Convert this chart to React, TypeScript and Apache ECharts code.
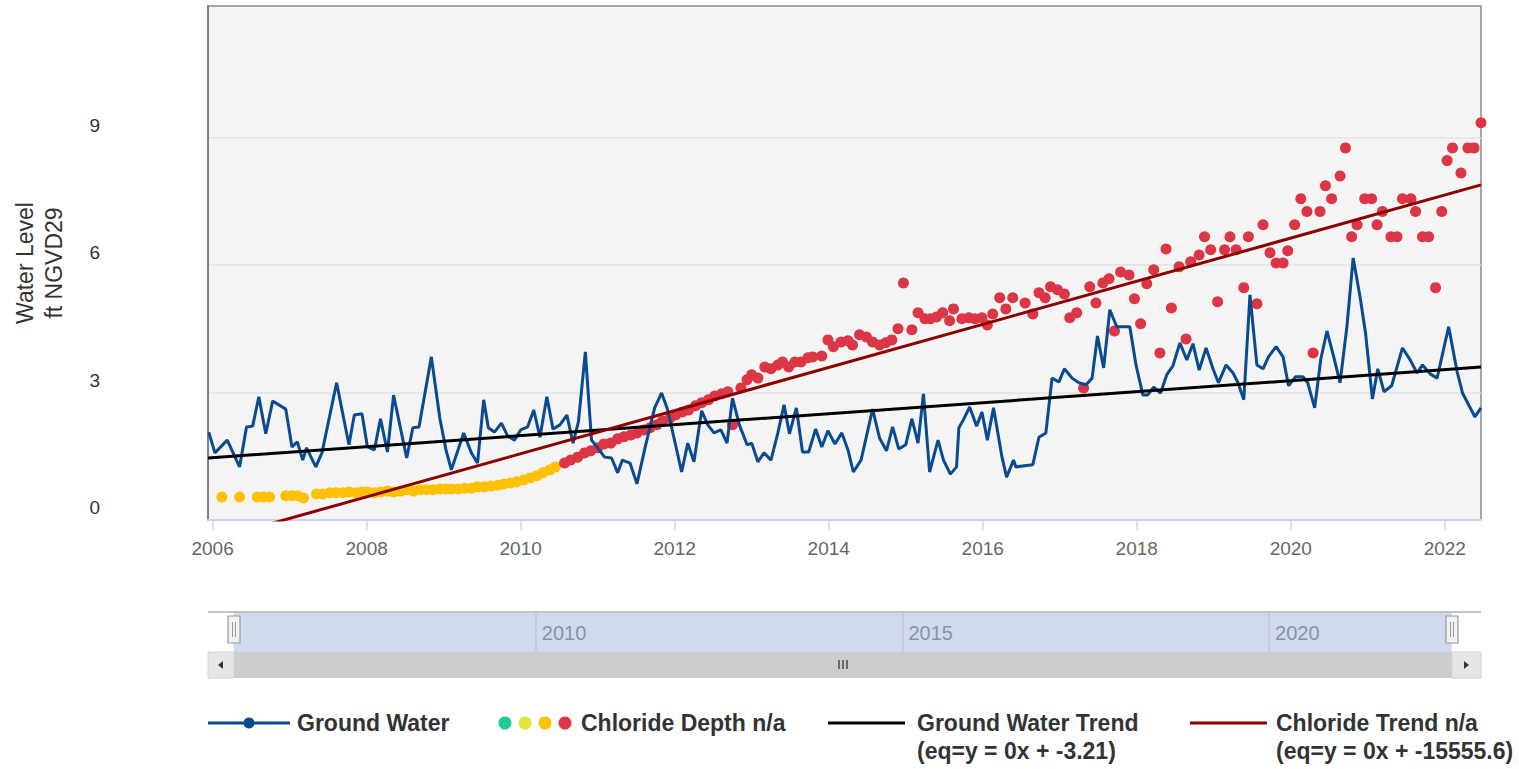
import React, { useEffect, useRef } from "react";
import * as echarts from "echarts";

const FONT = '"Liberation Sans", Arial, Helvetica, sans-serif';

// x axis range (decimal years) and tick labels
const xRange = [2005.94, 2022.47];
const xTickYears = [2006, 2008, 2010, 2012, 2014, 2016, 2018, 2020, 2022];
const yRange = [0, 12.1];
const yTickValues = [0, 3, 6, 9];

// navigator (overview) axis range, labels and selected window
const navRange = [2005.53, 2022.89];
const navTickYears = [2010, 2015, 2020];
const navSelection = [2005.88, 2022.49];

// Ground water level, ft NGVD29 [decimal year, level]
const groundWater: [number, number][] = [
  [2005.95, 2.07], [2006.03, 1.58], [2006.19, 1.88], [2006.35, 1.25], [2006.44, 2.19], [2006.52, 2.21],
  [2006.6, 2.9], [2006.69, 2.03], [2006.78, 2.8], [2006.95, 2.61], [2007.03, 1.72], [2007.1, 1.84],
  [2007.17, 1.41], [2007.22, 1.7], [2007.34, 1.25], [2007.42, 1.58], [2007.61, 3.23], [2007.77, 1.77],
  [2007.84, 2.47], [2007.94, 2.5], [2008.01, 1.72], [2008.1, 1.65], [2008.18, 2.38], [2008.27, 1.6],
  [2008.35, 2.94], [2008.52, 1.46], [2008.6, 2.17], [2008.68, 2.19], [2008.84, 3.84], [2008.95, 2.4],
  [2009.03, 1.65], [2009.1, 1.18], [2009.26, 2.05], [2009.36, 1.58], [2009.44, 1.34], [2009.52, 2.83],
  [2009.58, 2.17], [2009.66, 2.07], [2009.75, 2.28], [2009.83, 1.98], [2009.92, 1.88], [2010.0, 2.12],
  [2010.09, 2.19], [2010.17, 2.59], [2010.25, 1.95], [2010.34, 2.9], [2010.42, 2.14], [2010.51, 2.24],
  [2010.6, 2.47], [2010.68, 1.81], [2010.75, 2.31], [2010.84, 3.96], [2010.92, 1.88], [2011.0, 1.7],
  [2011.09, 1.48], [2011.18, 1.46], [2011.26, 1.11], [2011.32, 1.41], [2011.42, 1.34], [2011.51, 0.85],
  [2011.62, 1.74], [2011.74, 2.64], [2011.83, 2.99], [2011.91, 2.59], [2012.09, 1.13], [2012.17, 1.81],
  [2012.25, 1.37], [2012.35, 2.57], [2012.43, 2.24], [2012.51, 2.05], [2012.6, 2.12], [2012.68, 1.81],
  [2012.75, 2.87], [2012.84, 2.24], [2012.94, 1.77], [2013.0, 1.81], [2013.08, 1.37], [2013.16, 1.58],
  [2013.25, 1.41], [2013.34, 2.05], [2013.42, 2.71], [2013.49, 2.03], [2013.58, 2.64], [2013.66, 1.6],
  [2013.74, 1.6], [2013.83, 2.14], [2013.91, 1.72], [2013.99, 2.1], [2014.08, 1.79], [2014.17, 2.05],
  [2014.25, 1.65], [2014.32, 1.13], [2014.42, 1.41], [2014.57, 2.61], [2014.66, 1.93], [2014.75, 1.63],
  [2014.83, 2.19], [2014.91, 1.67], [2015.0, 1.77], [2015.08, 2.38], [2015.16, 1.81], [2015.23, 2.97],
  [2015.31, 1.13], [2015.42, 1.88], [2015.49, 1.41], [2015.58, 1.08], [2015.66, 1.25], [2015.69, 2.17],
  [2015.75, 2.36], [2015.83, 2.66], [2015.92, 2.21], [2015.99, 2.54], [2016.06, 1.88], [2016.14, 2.64],
  [2016.25, 1.48], [2016.31, 1.01], [2016.4, 1.41], [2016.43, 1.25], [2016.65, 1.3], [2016.73, 1.95],
  [2016.82, 2.05], [2016.9, 3.34], [2016.99, 3.25], [2017.06, 3.56], [2017.16, 3.34], [2017.25, 3.23],
  [2017.34, 3.18], [2017.42, 3.34], [2017.49, 4.33], [2017.57, 3.58], [2017.65, 4.95], [2017.74, 4.55],
  [2017.91, 4.55], [2017.99, 3.65], [2018.08, 2.94], [2018.14, 2.94], [2018.22, 3.13], [2018.31, 2.99],
  [2018.39, 3.42], [2018.47, 3.63], [2018.56, 4.17], [2018.65, 3.77], [2018.73, 4.15], [2018.81, 3.53],
  [2018.9, 4.05], [2018.99, 3.56], [2019.06, 3.23], [2019.16, 3.65], [2019.25, 3.46], [2019.31, 3.25],
  [2019.39, 2.83], [2019.47, 5.3], [2019.56, 3.65], [2019.64, 3.56], [2019.71, 3.84], [2019.81, 4.08],
  [2019.9, 3.84], [2019.97, 3.16], [2020.06, 3.37], [2020.16, 3.37], [2020.22, 3.23], [2020.31, 2.64],
  [2020.39, 3.79], [2020.47, 4.45], [2020.56, 3.82], [2020.64, 3.23], [2020.73, 4.57], [2020.81, 6.17],
  [2020.9, 5.25], [2020.97, 4.41], [2021.06, 2.85], [2021.13, 3.56], [2021.21, 3.02], [2021.31, 3.16],
  [2021.45, 4.05], [2021.55, 3.77], [2021.64, 3.46], [2021.71, 3.65], [2021.81, 3.44], [2021.9, 3.34],
  [2022.05, 4.55], [2022.16, 3.49], [2022.23, 2.99], [2022.39, 2.43], [2022.47, 2.64],
];

// Chloride depth samples, moderate class (orange)
const chlorideModerate: [number, number][] = [
  [2006.12, 0.54], [2006.35, 0.54], [2006.58, 0.54], [2006.66, 0.54], [2006.74, 0.54], [2006.95, 0.57],
  [2007.03, 0.57], [2007.1, 0.57], [2007.18, 0.52], [2007.35, 0.61], [2007.43, 0.61], [2007.52, 0.64],
  [2007.6, 0.64], [2007.69, 0.64], [2007.77, 0.66], [2007.86, 0.64], [2007.94, 0.66], [2008.01, 0.66],
  [2008.1, 0.64], [2008.18, 0.66], [2008.27, 0.68], [2008.35, 0.66], [2008.44, 0.68], [2008.52, 0.71],
  [2008.61, 0.68], [2008.69, 0.71], [2008.78, 0.71], [2008.86, 0.71], [2008.95, 0.73], [2009.03, 0.73],
  [2009.1, 0.73], [2009.19, 0.73], [2009.27, 0.75], [2009.36, 0.75], [2009.44, 0.78], [2009.53, 0.78],
  [2009.61, 0.8], [2009.7, 0.82], [2009.78, 0.85], [2009.87, 0.87], [2009.95, 0.9], [2010.04, 0.94],
  [2010.12, 0.99], [2010.21, 1.04], [2010.29, 1.11], [2010.38, 1.18], [2010.45, 1.25],
];

// Chloride depth samples, high class (red)
const chlorideHigh: [number, number][] = [
  [2010.57, 1.34], [2010.65, 1.41], [2010.74, 1.48], [2010.83, 1.58], [2010.91, 1.63], [2011.0, 1.7],
  [2011.08, 1.79], [2011.17, 1.81], [2011.26, 1.91], [2011.34, 1.96], [2011.43, 2.0], [2011.51, 2.05],
  [2011.6, 2.12], [2011.68, 2.17], [2011.77, 2.24], [2011.84, 2.33], [2011.94, 2.4], [2012.01, 2.47],
  [2012.1, 2.54], [2012.18, 2.59], [2012.27, 2.69], [2012.35, 2.76], [2012.44, 2.83], [2012.52, 2.92],
  [2012.61, 2.97], [2012.69, 3.02], [2012.75, 2.24], [2012.86, 3.11], [2012.94, 3.3], [2013.0, 3.42],
  [2013.08, 3.34], [2013.17, 3.6], [2013.25, 3.56], [2013.34, 3.65], [2013.4, 3.72], [2013.48, 3.6],
  [2013.56, 3.72], [2013.64, 3.72], [2013.73, 3.82], [2013.79, 3.84], [2013.91, 3.86], [2013.99, 4.24],
  [2014.06, 4.08], [2014.16, 4.19], [2014.25, 4.22], [2014.31, 4.12], [2014.4, 4.36], [2014.49, 4.31],
  [2014.57, 4.19], [2014.66, 4.12], [2014.74, 4.17], [2014.82, 4.24], [2014.9, 4.5], [2014.97, 5.58],
  [2015.08, 4.48], [2015.16, 4.88], [2015.25, 4.74], [2015.32, 4.74], [2015.4, 4.78], [2015.48, 4.88],
  [2015.57, 4.69], [2015.62, 4.97], [2015.73, 4.74], [2015.82, 4.76], [2015.9, 4.74], [2015.99, 4.76],
  [2016.06, 4.59], [2016.13, 4.85], [2016.22, 5.23], [2016.3, 4.97], [2016.39, 5.23], [2016.55, 5.11],
  [2016.65, 4.85], [2016.73, 5.35], [2016.81, 5.23], [2016.88, 5.49], [2016.97, 5.42], [2017.06, 5.32],
  [2017.13, 4.76], [2017.22, 4.88], [2017.31, 3.11], [2017.39, 5.49], [2017.47, 5.11], [2017.56, 5.58],
  [2017.64, 5.68], [2017.71, 4.45], [2017.79, 5.84], [2017.9, 5.77], [2017.97, 5.21], [2018.05, 4.62],
  [2018.13, 5.56], [2018.22, 5.89], [2018.3, 3.93], [2018.38, 6.38], [2018.45, 4.99], [2018.55, 5.96],
  [2018.64, 4.26], [2018.7, 6.08], [2018.81, 6.24], [2018.88, 6.67], [2018.96, 6.36], [2019.05, 5.14],
  [2019.14, 6.36], [2019.21, 6.67], [2019.29, 6.36], [2019.39, 5.47], [2019.45, 6.67], [2019.56, 5.09],
  [2019.64, 6.95], [2019.73, 6.29], [2019.81, 6.05], [2019.9, 6.05], [2019.96, 6.34], [2020.05, 6.95],
  [2020.13, 7.56], [2020.21, 7.26], [2020.29, 3.93], [2020.38, 7.26], [2020.45, 7.87], [2020.53, 7.56],
  [2020.64, 8.1], [2020.71, 8.76], [2020.79, 6.67], [2020.86, 6.95], [2020.96, 7.56], [2021.05, 7.56],
  [2021.12, 6.95], [2021.19, 7.26], [2021.3, 6.67], [2021.38, 6.67], [2021.45, 7.56], [2021.56, 7.56],
  [2021.62, 7.26], [2021.71, 6.67], [2021.79, 6.67], [2021.88, 5.47], [2021.96, 7.26], [2022.03, 8.46],
  [2022.1, 8.76], [2022.21, 8.17], [2022.3, 8.76], [2022.38, 8.76], [2022.47, 9.35],
];

// Linear trends (endpoints at the plot edges)
const groundWaterTrend: [number, number][] = [[2005.94, 1.46], [2022.47, 3.6]];
const chlorideTrend: [number, number][] = [[2005.94, -0.5], [2022.47, 7.89]];

// Legend texts
const legendLabels = [
  "Ground Water",
  "Chloride Depth n/a",
  "Ground Water Trend\n(eq=y = 0x + -3.21)",
  "Chloride Trend n/a\n(eq=y = 0x + -15555.6)",
];

const BLUE = "#0a4a8e";
const RED = "#dc3545";
const ORANGE = "#ffc107";
const DARKRED = "#8b0000";

export default function App() {
  const ref = useRef<HTMLDivElement>(null);

  useEffect(() => {
    if (!ref.current) return;
    const chart = echarts.init(ref.current, null, { renderer: "svg" });

    const legendTextStyle = (text: string) => ({
      text,
      fontSize: 23,
      fontWeight: "bold",
      fontFamily: FONT,
      fill: "#333333",
      lineHeight: 28,
      verticalAlign: "top",
    });

    const graphics: any[] = [
      // navigator top outline
      { type: "line", z: 50, shape: { x1: 208, y1: 612, x2: 1481, y2: 612 }, style: { stroke: "#c2c2c2", lineWidth: 2 } },
      // scrollbar track + thumb
      { type: "rect", z: 50, shape: { x: 208, y: 652, width: 1273, height: 26 }, style: { fill: "#f2f2f2" } },
      { type: "rect", z: 51, shape: { x: 234, y: 652, width: 1218, height: 26 }, style: { fill: "#cccccc" } },
      { type: "rect", z: 51, shape: { x: 208, y: 652, width: 26, height: 26 }, style: { fill: "#e6e6e6", stroke: "#d4d4d4", lineWidth: 1 } },
      { type: "rect", z: 51, shape: { x: 1452, y: 652, width: 29, height: 26 }, style: { fill: "#e6e6e6", stroke: "#d4d4d4", lineWidth: 1 } },
      { type: "polygon", z: 52, shape: { points: [[218, 665], [223, 661], [223, 669]] }, style: { fill: "#333" } },
      { type: "polygon", z: 52, shape: { points: [[1469, 665], [1464, 661], [1464, 669]] }, style: { fill: "#333" } },
      { type: "line", z: 52, shape: { x1: 839, y1: 660, x2: 839, y2: 669 }, style: { stroke: "#333", lineWidth: 1.3 } },
      { type: "line", z: 52, shape: { x1: 843, y1: 660, x2: 843, y2: 669 }, style: { stroke: "#333", lineWidth: 1.3 } },
      { type: "line", z: 52, shape: { x1: 847, y1: 660, x2: 847, y2: 669 }, style: { stroke: "#333", lineWidth: 1.3 } },
      // navigator handles
      { type: "rect", z: 53, shape: { x: 228, y: 616, width: 12, height: 27 }, style: { fill: "#f2f2f2", stroke: "#999999", lineWidth: 1.2 } },
      { type: "line", z: 54, shape: { x1: 232.5, y1: 622, x2: 232.5, y2: 637 }, style: { stroke: "#999", lineWidth: 1 } },
      { type: "line", z: 54, shape: { x1: 235.5, y1: 622, x2: 235.5, y2: 637 }, style: { stroke: "#999", lineWidth: 1 } },
      { type: "rect", z: 53, shape: { x: 1446, y: 616, width: 12, height: 27 }, style: { fill: "#f2f2f2", stroke: "#999999", lineWidth: 1.2 } },
      { type: "line", z: 54, shape: { x1: 1450.5, y1: 622, x2: 1450.5, y2: 637 }, style: { stroke: "#999", lineWidth: 1 } },
      { type: "line", z: 54, shape: { x1: 1453.5, y1: 622, x2: 1453.5, y2: 637 }, style: { stroke: "#999", lineWidth: 1 } },
      // legend: ground water
      { type: "line", z: 60, shape: { x1: 208, y1: 723, x2: 290, y2: 723 }, style: { stroke: BLUE, lineWidth: 3 } },
      { type: "circle", z: 61, shape: { cx: 249, cy: 723, r: 5.5 }, style: { fill: BLUE } },
      { type: "text", z: 60, x: 297, y: 709, style: legendTextStyle(legendLabels[0]) },
      // legend: chloride depth classes
      { type: "circle", z: 60, shape: { cx: 505, cy: 723, r: 6.5 }, style: { fill: "#20c997" } },
      { type: "circle", z: 60, shape: { cx: 525, cy: 723, r: 6.5 }, style: { fill: "#e3e33a" } },
      { type: "circle", z: 60, shape: { cx: 545, cy: 723, r: 6.5 }, style: { fill: ORANGE } },
      { type: "circle", z: 60, shape: { cx: 565, cy: 723, r: 6.5 }, style: { fill: RED } },
      { type: "text", z: 60, x: 581, y: 709, style: legendTextStyle(legendLabels[1]) },
      // legend: ground water trend
      { type: "line", z: 60, shape: { x1: 828, y1: 723, x2: 905, y2: 723 }, style: { stroke: "#000", lineWidth: 3 } },
      { type: "text", z: 60, x: 917, y: 709, style: legendTextStyle(legendLabels[2]) },
      // legend: chloride trend
      { type: "line", z: 60, shape: { x1: 1190, y1: 723, x2: 1267, y2: 723 }, style: { stroke: DARKRED, lineWidth: 3 } },
      { type: "text", z: 60, x: 1276, y: 709, style: legendTextStyle(legendLabels[3]) },
    ];

    const option: any = {
      animation: false,
      textStyle: { fontFamily: FONT },
      grid: [
        {
          left: 208, right: 38, top: 6, height: 514, show: true, backgroundColor: "#f4f4f4",
          borderColor: "#8c8c8c", borderWidth: 1.5, containLabel: false, outerBoundsMode: "none",
        },
        {
          left: 208, right: 38, top: 612, height: 40, show: true, backgroundColor: "#ffffff",
          borderWidth: 0, containLabel: false, outerBoundsMode: "none",
        },
      ],
      xAxis: [
        {
          type: "value",
          gridIndex: 0,
          min: xRange[0],
          max: xRange[1],
          axisLine: { show: true, lineStyle: { color: "#ccd6eb", width: 2 } },
          axisTick: { show: true, customValues: xTickYears, length: 10, lineStyle: { color: "#ccd6eb", width: 1.5 } },
          axisLabel: {
            customValues: xTickYears,
            fontSize: 19,
            color: "#666666",
            margin: 19,
            fontFamily: FONT,
            formatter: (v: number) => String(Math.round(v)),
          },
          splitLine: { show: false },
        },
        {
          type: "value",
          gridIndex: 1,
          min: navRange[0],
          max: navRange[1],
          axisLine: { show: false },
          axisTick: { show: false, customValues: navTickYears },
          axisLabel: {
            customValues: navTickYears,
            inside: true,
            margin: 9,
            align: "left",
            padding: [0, 0, 0, 6],
            fontSize: 20,
            color: "#999999",
            fontFamily: FONT,
            formatter: (v: number) => String(Math.round(v)),
          },
          splitLine: { show: true, lineStyle: { color: "#e6e6e6", width: 1.5 } },
        },
      ],
      yAxis: [
        {
          type: "value",
          gridIndex: 0,
          min: yRange[0],
          max: yRange[1],
          name: "Water Level\nft NGVD29",
          nameLocation: "middle",
          nameRotate: 90,
          nameGap: 140,
          nameTextStyle: { fontSize: 23, lineHeight: 29, color: "#333333", fontFamily: FONT },
          axisLine: { show: true, lineStyle: { color: "#808080", width: 2 } },
          axisTick: { show: false, customValues: yTickValues },
          axisLabel: {
            customValues: yTickValues,
            fontSize: 19,
            color: "#333333",
            margin: 108,
            verticalAlign: "bottom",
            padding: [0, 0, 3, 0],
            fontFamily: FONT,
          },
          splitLine: { show: true, lineStyle: { color: "#e3e3e3", width: 1.5 } },
        },
        { type: "value", gridIndex: 1, min: 0, max: 1, show: false },
      ],
      series: [
        {
          name: "Ground Water",
          type: "line",
          data: groundWater,
          showSymbol: false,
          symbol: "none",
          lineStyle: { color: BLUE, width: 3 },
          itemStyle: { color: BLUE },
        },
        {
          name: "Chloride Depth n/a",
          type: "scatter",
          data: chlorideModerate,
          symbolSize: 11,
          itemStyle: { color: ORANGE, opacity: 1 },
        },
        {
          name: "Chloride Depth n/a ",
          type: "scatter",
          data: chlorideHigh,
          symbolSize: 11,
          itemStyle: { color: RED, opacity: 1 },
        },
        {
          name: "Ground Water Trend",
          type: "line",
          data: groundWaterTrend,
          showSymbol: false,
          symbol: "none",
          lineStyle: { color: "#000000", width: 3 },
        },
        {
          name: "Chloride Trend n/a",
          type: "line",
          data: chlorideTrend,
          showSymbol: false,
          symbol: "none",
          clip: true,
          lineStyle: { color: DARKRED, width: 3 },
        },
        {
          name: "navigator",
          type: "line",
          xAxisIndex: 1,
          yAxisIndex: 1,
          data: [[navTickYears[0], 0.5]],
          symbol: "none",
          lineStyle: { opacity: 0 },
          silent: true,
          markArea: {
            silent: true,
            itemStyle: { color: "rgba(102,133,194,0.3)" },
            data: [[{ xAxis: navSelection[0] }, { xAxis: navSelection[1] }]],
          },
        },
      ],
      graphic: graphics,
    };

    chart.setOption(option);
    return () => chart.dispose();
  }, []);

  return (
    <div
      ref={ref}
      style={{ position: "absolute", left: 0, top: 0, width: "1519px", height: "769px", background: "#ffffff" }}
    />
  );
}
